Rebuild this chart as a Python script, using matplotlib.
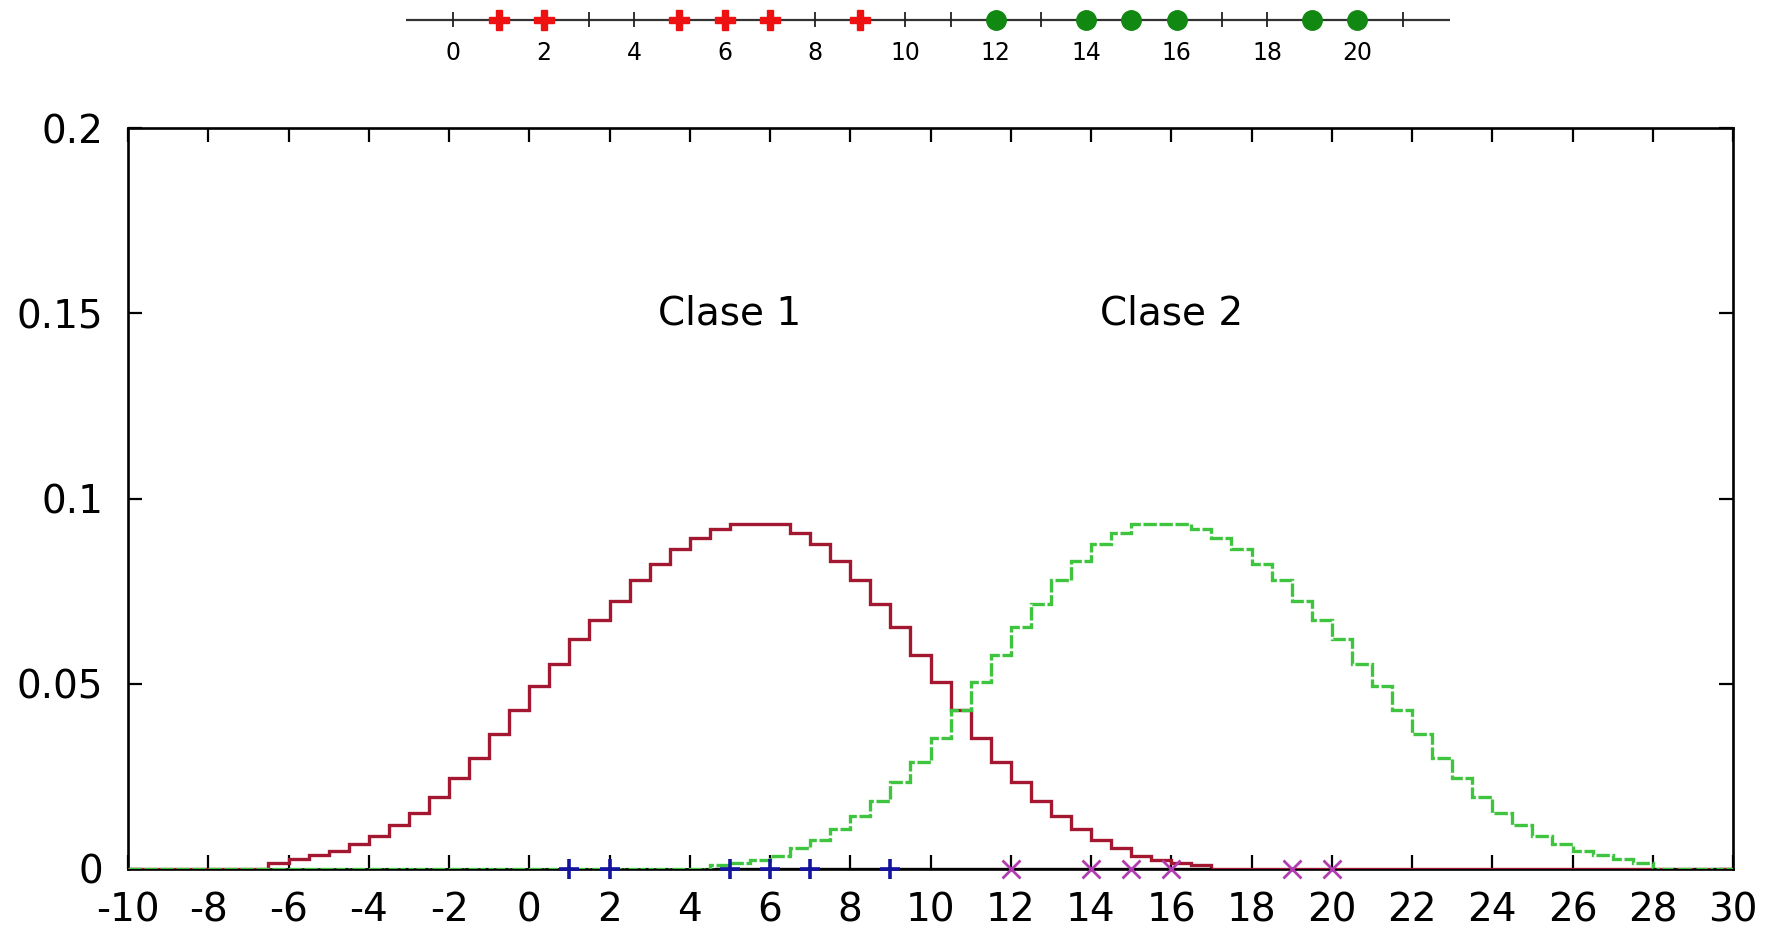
"""
Two-class 1-D example: sample points on a number line (top strip) and the
stepped density estimate of each class (main panel).
"""
import numpy as np
import matplotlib
matplotlib.use("Agg")
import matplotlib.pyplot as plt

plt.rcParams["axes.unicode_minus"] = False
plt.rcParams["font.family"] = ["DejaVu Sans"]

# ---- data ----------------------------------------------------------------
class1_points = [1, 2, 5, 6, 7, 9]
class2_points = [12, 14, 15, 16, 19, 20]

bin_width = 0.5
x_min, x_max = -10, 30

# class 1 density, bins of 0.5 starting at -6.5
class1_start = -6.5
class1_density = [
    0.0016, 0.0027, 0.0038, 0.0049, 0.0068, 0.0089, 0.0120, 0.0150,
    0.0195, 0.0246, 0.0300, 0.0365, 0.0428, 0.0493, 0.0554, 0.0621,
    0.0671, 0.0724, 0.0779, 0.0822, 0.0864, 0.0893, 0.0918, 0.0930,
    0.0931, 0.0930, 0.0907, 0.0876, 0.0830, 0.0781, 0.0714, 0.0652,
    0.0577, 0.0504, 0.0428, 0.0353, 0.0290, 0.0235, 0.0184, 0.0142,
    0.0108, 0.0077, 0.0056, 0.0035, 0.0024, 0.0017, 0.0011,
]

# class 2 density, bins of 0.5 starting at 4.5
class2_start = 4.5
class2_density = [
    0.0011, 0.0017, 0.0024, 0.0035, 0.0056, 0.0077, 0.0108, 0.0142,
    0.0184, 0.0235, 0.0290, 0.0353, 0.0428, 0.0504, 0.0577, 0.0652,
    0.0714, 0.0781, 0.0830, 0.0876, 0.0907, 0.0930, 0.0931, 0.0930,
    0.0918, 0.0893, 0.0864, 0.0822, 0.0779, 0.0724, 0.0671, 0.0621,
    0.0554, 0.0493, 0.0428, 0.0365, 0.0300, 0.0246, 0.0195, 0.0150,
    0.0120, 0.0089, 0.0068, 0.0049, 0.0038, 0.0027, 0.0016,
]

class_labels = ["Clase 1", "Clase 2"]
label_pos = [(5, 0.15), (16, 0.15)]

x_ticks = list(range(-10, 31, 2))
y_ticks = [0, 0.05, 0.1, 0.15, 0.2]
y_tick_labels = ["0", "0.05", "0.1", "0.15", "0.2"]

strip_ticks = list(range(0, 22))
strip_labels = list(range(0, 21, 2))

RED = "#a31830"
GREEN = "#3ec43e"
BLUE = "#1414a0"
MAGENTA = "#b03cb0"


def padded(values, start):
    """Put a class' bins on the full -10..30 grid, zeros elsewhere."""
    n_left = int(round((start - x_min) / bin_width))
    n_total = int(round((x_max - x_min) / bin_width))
    out = np.zeros(n_total)
    out[n_left:n_left + len(values)] = values
    return out


fig = plt.figure(figsize=(17.79, 9.33), dpi=100)

# ---- top strip: the samples on a number line -----------------------------
ax_s = fig.add_axes([406 / 1779, 1 - 39 / 933, (1450 - 406) / 1779, 39 / 933])
ax_s.set_xlim(-1.05, 22.05)
ax_s.set_ylim(-1, 1)
ax_s.axis("off")
ax_s.axhline(0, color="#333333", lw=1.6)
ax_s.vlines(strip_ticks, -0.4, 0.4, color="#222222", lw=1.3)
for v in strip_labels:
    ax_s.text(v, -1.72, str(v), ha="center", va="center", fontsize=17,
              clip_on=False)
ax_s.plot(class1_points, np.zeros(len(class1_points)), ls="none",
          marker="P", ms=14, color="#ee1111", mec="#ee1111")
ax_s.plot(class2_points, np.zeros(len(class2_points)), ls="none",
          marker="o", ms=14, color="#118811", mec="#118811")

# ---- main panel -----------------------------------------------------------
ax = fig.add_axes([128 / 1779, 64 / 933, (1733 - 128) / 1779, (869 - 128) / 933])
edges = np.arange(x_min, x_max + bin_width / 2, bin_width)

ax.stairs(padded(class1_density, class1_start), edges, baseline=None,
          color=RED, lw=2.4, zorder=3)
ax.stairs(padded(class2_density, class2_start), edges, baseline=None,
          color=GREEN, lw=2.4, ls=(0, (4, 0.8)), zorder=4)

# black zero line pieces drawn over the curves
ax.hlines(0, -4.6, 4.6, color="black", lw=2, ls=(0, (1.1, 6.1)), zorder=5)
ax.hlines(0, 4.6, 17.0, color="black", lw=2.4, zorder=5)
ax.hlines(0, 28.0, 30, color="black", lw=2, ls=(0, (1.1, 6.1)), zorder=5)

ax.plot(class1_points, np.zeros(len(class1_points)), ls="none", marker="+",
        ms=15, mew=2.6, color=BLUE, clip_on=False, zorder=6)
ax.plot(class2_points, np.zeros(len(class2_points)), ls="none", marker="x",
        ms=13, mew=2.0, color=MAGENTA, clip_on=False, zorder=6)

for name, (tx, ty) in zip(class_labels, label_pos):
    ax.text(tx, ty, name, ha="center", va="center", fontsize=28)

ax.set_xlim(x_min, x_max)
ax.set_ylim(0, 0.2)
ax.set_xticks(x_ticks)
ax.set_xticklabels([str(v) for v in x_ticks])
ax.set_yticks(y_ticks)
ax.set_yticklabels(y_tick_labels)
ax.tick_params(direction="in", length=10, width=1.6, labelsize=28,
               top=True, right=True)
ax.tick_params(axis="x", pad=16)
ax.tick_params(axis="y", pad=18)
for s in ax.spines.values():
    s.set_linewidth(1.9)

fig.savefig("out.png", dpi=100)
